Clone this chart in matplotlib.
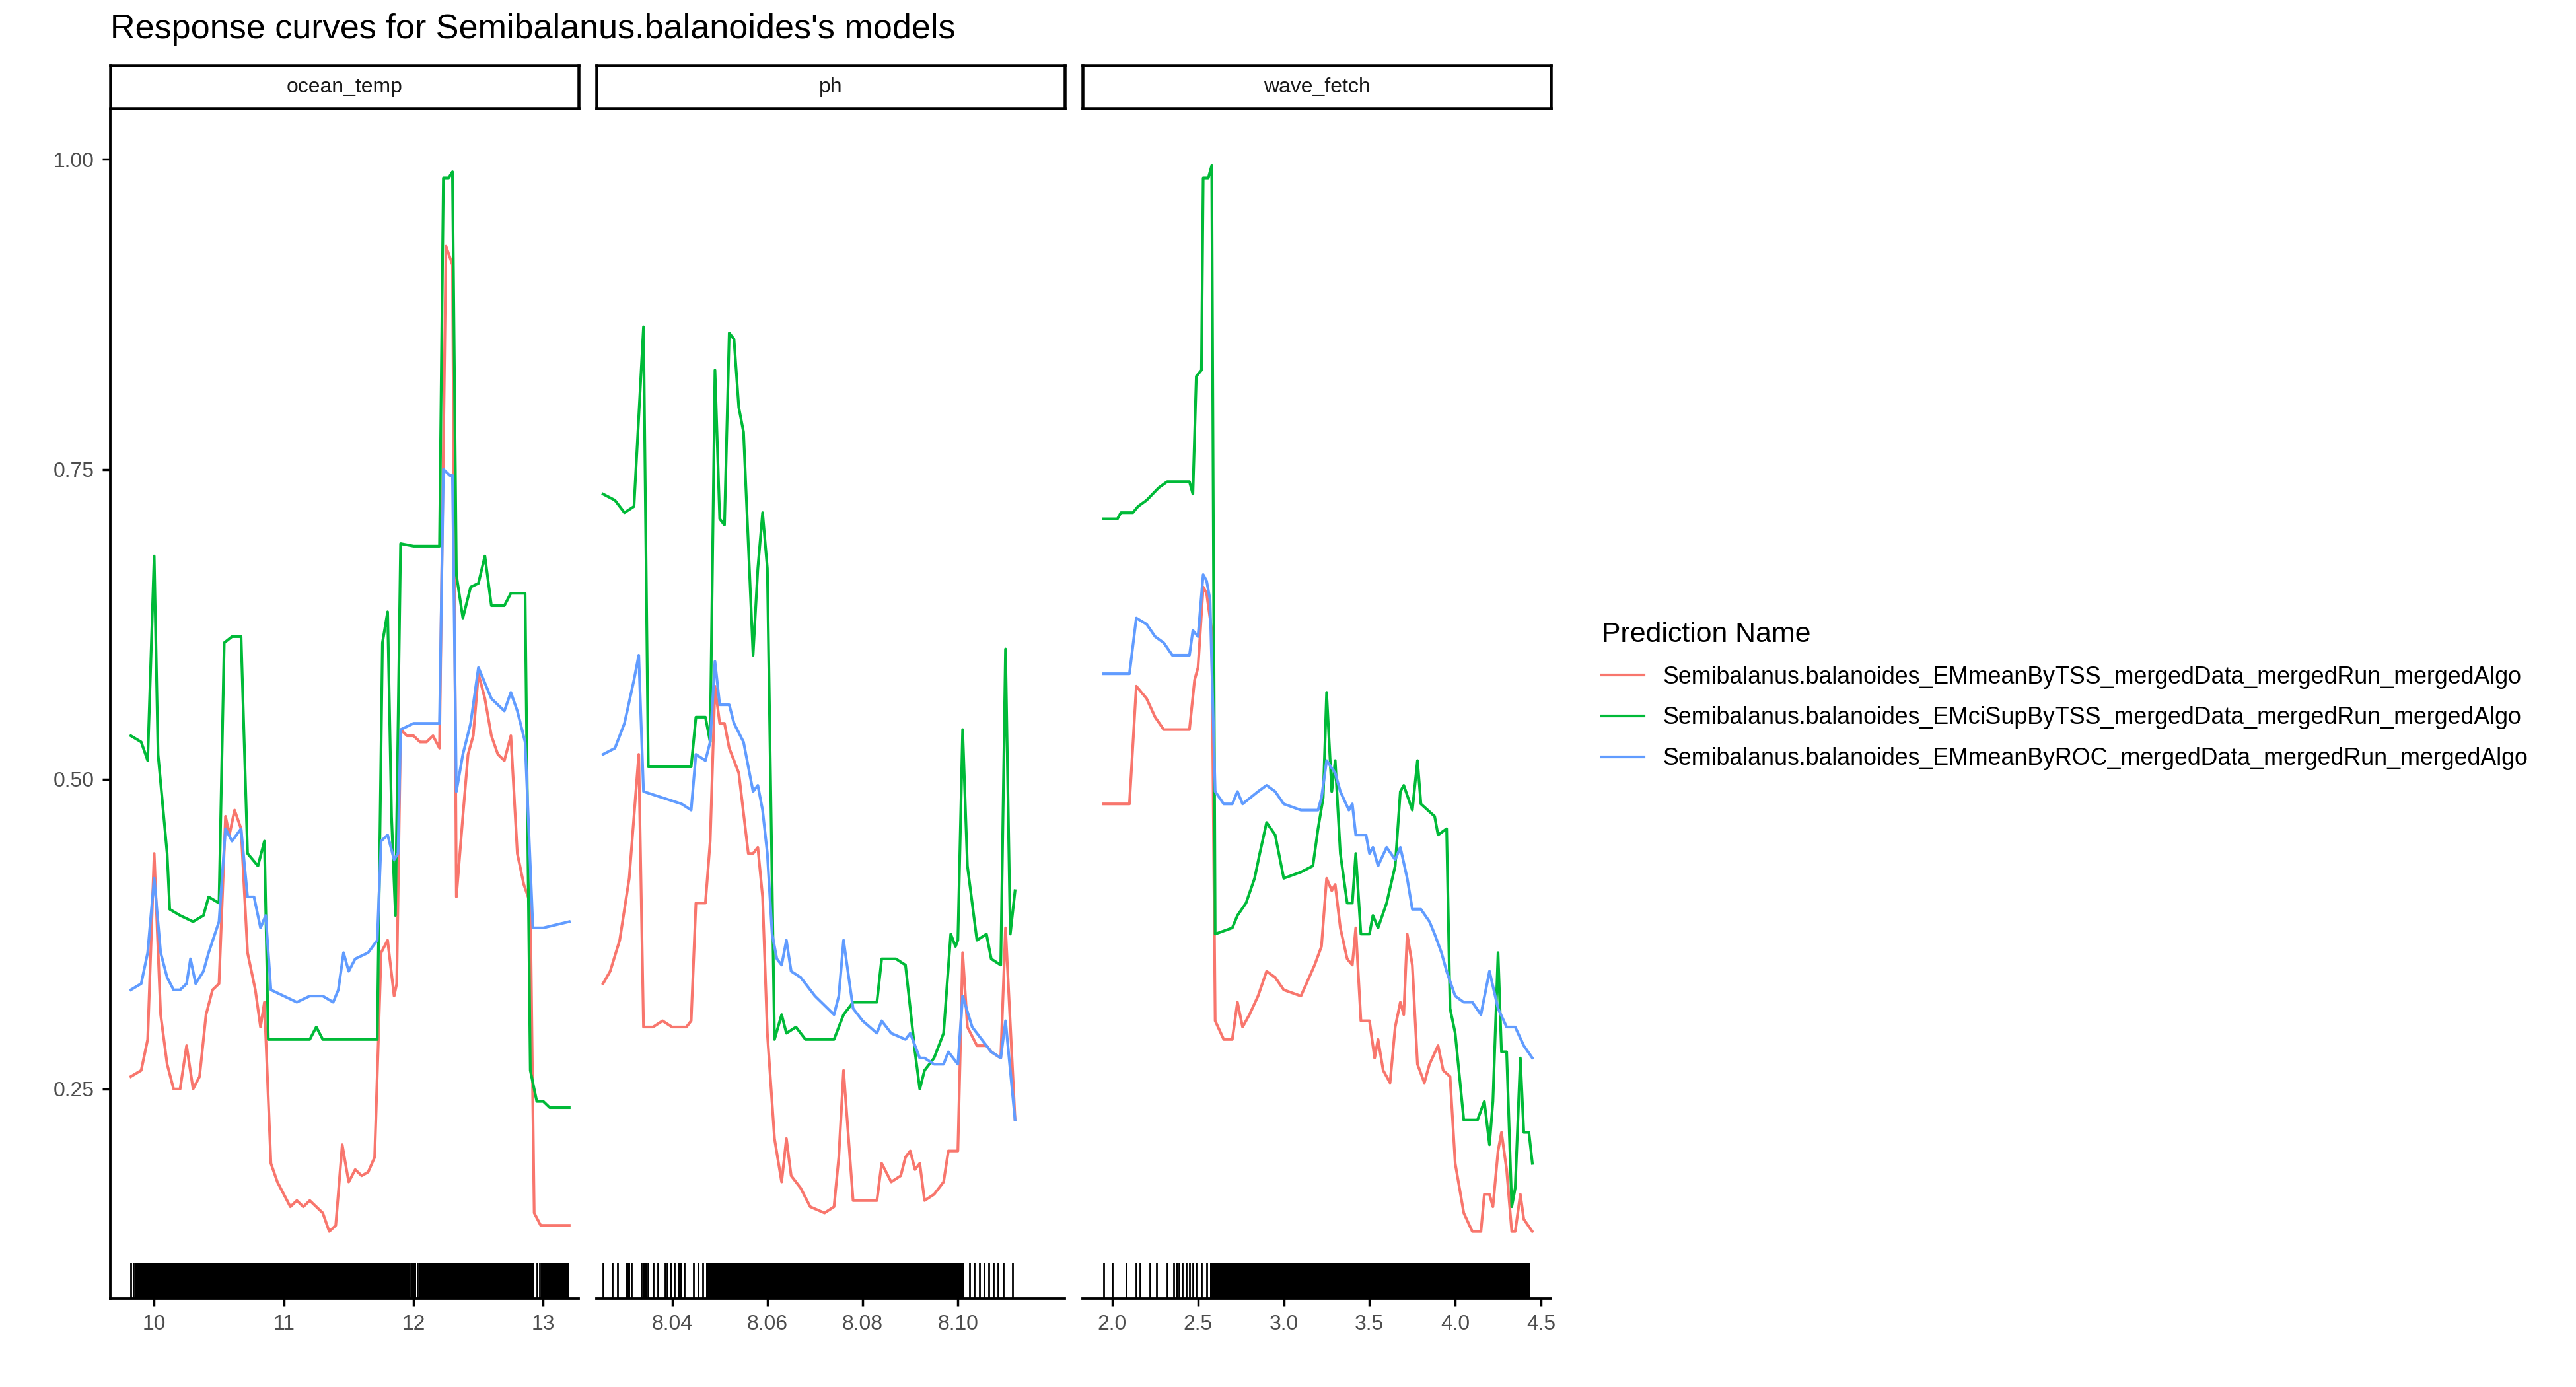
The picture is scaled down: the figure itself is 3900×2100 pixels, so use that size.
import matplotlib
matplotlib.use("Agg")
import matplotlib.pyplot as plt
import matplotlib.transforms as mtransforms

plt.rcParams['font.family'] = ['Liberation Sans', 'DejaVu Sans']

panels = ["ocean_temp", "ph", "wave_fetch"]
series_names = ["Semibalanus.balanoides_EMmeanByTSS_mergedData_mergedRun_mergedAlgo",
                "Semibalanus.balanoides_EMciSupByTSS_mergedData_mergedRun_mergedAlgo",
                "Semibalanus.balanoides_EMmeanByROC_mergedData_mergedRun_mergedAlgo"]
colors = ["#F8766D", "#00BA38", "#619CFF"]

# ---- ocean_temp ----
ot_red_x = [9.82,9.9,9.95,10.0,10.05,10.1,10.15,10.2,10.25,10.3,10.35,10.4,10.45,10.5,10.55,10.58,10.62,10.67,10.72,10.78,10.82,10.85,10.9,10.95,11.0,11.05,11.1,11.15,11.2,11.25,11.3,11.35,11.4,11.45,11.5,11.55,11.6,11.65,11.7,11.75,11.8,11.85,11.87,11.9,11.95,12.0,12.05,12.1,12.15,12.2,12.25,12.3,12.33,12.38,12.42,12.46,12.5,12.55,12.6,12.65,12.7,12.75,12.8,12.85,12.9,12.93,12.98,13.05,13.2]
ot_red_y = [0.26,0.265,0.29,0.44,0.31,0.27,0.25,0.25,0.285,0.25,0.26,0.31,0.33,0.335,0.47,0.455,0.475,0.46,0.36,0.33,0.30,0.32,0.19,0.175,0.165,0.155,0.16,0.155,0.16,0.155,0.15,0.135,0.14,0.205,0.175,0.185,0.18,0.183,0.195,0.36,0.37,0.325,0.335,0.54,0.535,0.535,0.53,0.53,0.535,0.525,0.93,0.915,0.405,0.47,0.52,0.535,0.585,0.565,0.535,0.52,0.515,0.535,0.44,0.415,0.40,0.15,0.14,0.14,0.14]
ot_green_x = [9.82,9.9,9.95,10.0,10.03,10.1,10.12,10.2,10.3,10.38,10.42,10.5,10.54,10.6,10.67,10.72,10.8,10.85,10.88,11.0,11.2,11.25,11.3,11.6,11.72,11.76,11.8,11.83,11.86,11.9,12.0,12.2,12.23,12.27,12.3,12.33,12.38,12.44,12.5,12.55,12.6,12.7,12.75,12.86,12.9,12.95,13.0,13.05,13.2]
ot_green_y = [0.535,0.53,0.515,0.68,0.52,0.44,0.395,0.39,0.385,0.39,0.405,0.40,0.61,0.615,0.615,0.44,0.43,0.45,0.29,0.29,0.29,0.30,0.29,0.29,0.29,0.61,0.635,0.47,0.39,0.69,0.688,0.688,0.985,0.985,0.99,0.665,0.63,0.655,0.658,0.68,0.64,0.64,0.65,0.65,0.265,0.24,0.24,0.235,0.235]
ot_blue_x = [9.82,9.9,9.95,10.0,10.05,10.1,10.15,10.2,10.25,10.28,10.32,10.38,10.42,10.5,10.55,10.6,10.67,10.72,10.77,10.82,10.86,10.9,11.0,11.1,11.2,11.3,11.38,11.42,11.46,11.5,11.55,11.65,11.72,11.75,11.8,11.85,11.88,11.9,12.0,12.2,12.23,12.28,12.3,12.33,12.38,12.44,12.5,12.6,12.7,12.75,12.8,12.86,12.92,13.0,13.2]
ot_blue_y = [0.33,0.335,0.36,0.42,0.36,0.34,0.33,0.33,0.335,0.355,0.335,0.345,0.36,0.385,0.46,0.45,0.46,0.405,0.405,0.38,0.39,0.33,0.325,0.32,0.325,0.325,0.32,0.33,0.36,0.345,0.355,0.36,0.37,0.45,0.455,0.435,0.44,0.54,0.545,0.545,0.75,0.745,0.745,0.49,0.52,0.545,0.59,0.565,0.555,0.57,0.555,0.53,0.38,0.38,0.385]

# ---- ph ----
ph_green_x = [8.0255,8.028,8.030,8.032,8.034,8.035,8.038,8.044,8.045,8.047,8.048,8.049,8.050,8.051,8.052,8.053,8.054,8.055,8.057,8.058,8.059,8.060,8.0615,8.063,8.064,8.066,8.068,8.074,8.076,8.078,8.083,8.084,8.087,8.089,8.091,8.092,8.093,8.095,8.097,8.0985,8.0995,8.100,8.101,8.102,8.104,8.106,8.107,8.109,8.110,8.111,8.112]
ph_green_y = [0.73,0.725,0.715,0.72,0.865,0.51,0.51,0.51,0.55,0.55,0.53,0.83,0.71,0.705,0.86,0.855,0.80,0.78,0.60,0.67,0.715,0.67,0.29,0.31,0.295,0.30,0.29,0.29,0.31,0.32,0.32,0.355,0.355,0.35,0.28,0.25,0.265,0.275,0.295,0.375,0.365,0.37,0.54,0.43,0.37,0.375,0.355,0.35,0.605,0.375,0.41]
ph_blue_x = [8.0255,8.028,8.030,8.032,8.033,8.034,8.038,8.042,8.044,8.045,8.047,8.048,8.049,8.050,8.052,8.053,8.055,8.057,8.058,8.059,8.060,8.061,8.062,8.063,8.064,8.065,8.067,8.070,8.074,8.075,8.076,8.078,8.080,8.083,8.084,8.086,8.089,8.090,8.092,8.093,8.095,8.097,8.098,8.100,8.101,8.103,8.105,8.107,8.109,8.110,8.112]
ph_blue_y = [0.52,0.525,0.545,0.58,0.60,0.49,0.485,0.48,0.475,0.52,0.515,0.53,0.595,0.56,0.56,0.545,0.53,0.49,0.495,0.475,0.44,0.375,0.355,0.35,0.37,0.345,0.34,0.325,0.31,0.325,0.37,0.315,0.305,0.295,0.305,0.295,0.29,0.295,0.275,0.275,0.27,0.27,0.28,0.27,0.325,0.30,0.29,0.28,0.275,0.305,0.225]
ph_red_x = [8.0255,8.027,8.029,8.031,8.033,8.034,8.036,8.038,8.040,8.043,8.044,8.045,8.047,8.048,8.049,8.050,8.051,8.052,8.054,8.056,8.057,8.058,8.059,8.060,8.0615,8.063,8.064,8.065,8.067,8.069,8.072,8.074,8.075,8.076,8.078,8.080,8.083,8.084,8.086,8.088,8.089,8.090,8.091,8.092,8.093,8.095,8.097,8.098,8.100,8.101,8.102,8.104,8.106,8.107,8.109,8.110,8.112]
ph_red_y = [0.335,0.345,0.37,0.42,0.52,0.30,0.30,0.305,0.30,0.30,0.305,0.40,0.40,0.45,0.575,0.545,0.545,0.525,0.505,0.44,0.44,0.445,0.405,0.295,0.21,0.175,0.21,0.18,0.17,0.155,0.15,0.155,0.195,0.265,0.16,0.16,0.16,0.19,0.175,0.18,0.195,0.20,0.185,0.19,0.16,0.165,0.175,0.20,0.20,0.36,0.30,0.285,0.285,0.28,0.275,0.38,0.225]

# ---- wave_fetch ----
wf_green_x = [1.95,2.03,2.05,2.12,2.15,2.2,2.27,2.32,2.45,2.47,2.49,2.52,2.53,2.56,2.58,2.6,2.7,2.73,2.78,2.83,2.86,2.9,2.95,3.0,3.1,3.17,3.2,3.23,3.25,3.28,3.3,3.33,3.37,3.4,3.42,3.45,3.5,3.52,3.55,3.6,3.65,3.68,3.7,3.75,3.78,3.8,3.88,3.9,3.95,3.97,4.0,4.05,4.13,4.17,4.2,4.22,4.25,4.27,4.3,4.33,4.35,4.38,4.4,4.43,4.45]
wf_green_y = [0.71,0.71,0.715,0.715,0.72,0.725,0.735,0.74,0.74,0.73,0.825,0.83,0.985,0.985,0.995,0.375,0.38,0.39,0.40,0.42,0.44,0.465,0.455,0.42,0.425,0.43,0.46,0.485,0.57,0.49,0.515,0.44,0.40,0.40,0.44,0.375,0.375,0.39,0.38,0.40,0.43,0.49,0.495,0.475,0.515,0.48,0.47,0.455,0.46,0.315,0.295,0.225,0.225,0.24,0.205,0.24,0.36,0.28,0.28,0.155,0.17,0.275,0.215,0.215,0.19]
wf_blue_x = [1.95,2.1,2.14,2.2,2.25,2.3,2.35,2.45,2.47,2.5,2.53,2.55,2.57,2.6,2.65,2.7,2.73,2.76,2.85,2.9,2.95,3.0,3.1,3.2,3.22,3.25,3.3,3.33,3.38,3.4,3.42,3.48,3.5,3.52,3.55,3.6,3.65,3.68,3.72,3.75,3.8,3.85,3.88,3.92,3.95,4.0,4.05,4.1,4.15,4.2,4.25,4.3,4.35,4.4,4.45]
wf_blue_y = [0.585,0.585,0.63,0.625,0.615,0.61,0.60,0.60,0.62,0.615,0.665,0.66,0.645,0.49,0.48,0.48,0.49,0.48,0.49,0.495,0.49,0.48,0.475,0.475,0.485,0.515,0.505,0.49,0.475,0.48,0.455,0.455,0.44,0.445,0.43,0.445,0.435,0.445,0.42,0.395,0.395,0.385,0.375,0.36,0.345,0.325,0.32,0.32,0.31,0.345,0.315,0.30,0.30,0.285,0.275]
wf_red_x = [1.95,2.05,2.1,2.14,2.2,2.25,2.3,2.45,2.48,2.5,2.53,2.55,2.58,2.6,2.65,2.7,2.73,2.76,2.8,2.85,2.9,2.95,3.0,3.1,3.18,3.22,3.25,3.28,3.3,3.33,3.37,3.4,3.42,3.45,3.5,3.53,3.55,3.58,3.62,3.65,3.68,3.7,3.72,3.75,3.78,3.82,3.85,3.9,3.93,3.97,4.0,4.05,4.1,4.15,4.17,4.2,4.22,4.25,4.27,4.3,4.33,4.35,4.38,4.4,4.45]
wf_red_y = [0.48,0.48,0.48,0.575,0.565,0.55,0.54,0.54,0.58,0.59,0.655,0.65,0.62,0.305,0.29,0.29,0.32,0.30,0.31,0.325,0.345,0.34,0.33,0.325,0.35,0.365,0.42,0.41,0.415,0.38,0.355,0.35,0.38,0.305,0.305,0.275,0.29,0.265,0.255,0.30,0.32,0.31,0.375,0.35,0.27,0.255,0.27,0.285,0.265,0.26,0.19,0.15,0.135,0.135,0.165,0.165,0.155,0.20,0.215,0.185,0.135,0.135,0.165,0.145,0.135]

# rug: individual observation positions and densely covered spans
rug_single = {
    "ocean_temp": [9.82, 9.84, 11.98, 12.03, 12.95, 12.97],
    "ph": [8.0255, 8.0275, 8.0285, 8.0315, 8.0335, 8.035, 8.036, 8.037, 8.0385, 8.039, 8.0405, 8.0425,
           8.0445, 8.0455, 8.0465, 8.101, 8.1025, 8.1035, 8.1045, 8.1055, 8.1065, 8.1075, 8.1085, 8.1095, 8.1115],
    "wave_fetch": [1.95, 2.0, 2.08, 2.14, 2.16, 2.22, 2.26, 2.32, 2.36, 2.39, 2.41, 2.43, 2.45, 2.47, 2.49, 2.52, 2.55],
}
rug_spans = {
    "ocean_temp": [(9.85, 11.97), (11.985, 12.02), (12.04, 12.93), (12.98, 13.2)],
    "ph": [(8.0302, 8.0312), (8.0340, 8.0346), (8.0395, 8.0401), (8.0412, 8.0422), (8.0472, 8.1012)],
    "wave_fetch": [(2.37, 2.38), (2.57, 4.44)],
}

data = {
    "ocean_temp": [(ot_red_x, ot_red_y), (ot_green_x, ot_green_y), (ot_blue_x, ot_blue_y)],
    "ph": [(ph_red_x, ph_red_y), (ph_green_x, ph_green_y), (ph_blue_x, ph_blue_y)],
    "wave_fetch": [(wf_red_x, wf_red_y), (wf_green_x, wf_green_y), (wf_blue_x, wf_blue_y)],
}
xlims = {"ocean_temp": (9.66, 13.27), "ph": (8.0241, 8.1224), "wave_fetch": (1.827, 4.558)}
xticks = {"ocean_temp": ([10, 11, 12, 13], ["10", "11", "12", "13"]),
          "ph": ([8.04, 8.06, 8.08, 8.10], ["8.04", "8.06", "8.08", "8.10"]),
          "wave_fetch": ([2.0, 2.5, 3.0, 3.5, 4.0, 4.5], ["2.0", "2.5", "3.0", "3.5", "4.0", "4.5"])}
yticks = [0.25, 0.50, 0.75, 1.00]
ytick_labels = ["0.25", "0.50", "0.75", "1.00"]

W, H = 1568, 846
fig = plt.figure(figsize=(15.6, 8.4), dpi=250)
lefts = [67, 363, 659]
pw = 285
top, bottom = 67, 792
y0, y1 = 0.081, 1.04
gray = "#4D4D4D"
lines = []
for i, p in enumerate(panels):
    l = lefts[i]
    ax = fig.add_axes([l / W, 1 - bottom / H, pw / W, (bottom - top) / H])
    for k, (xs, ys) in enumerate(data[p]):
        ln, = ax.plot(xs, ys, color=colors[k], lw=1.2)
        if i == 0:
            lines.append(ln)
    trans = mtransforms.blended_transform_factory(ax.transData, ax.transAxes)
    ax.vlines(rug_single[p], 0, 0.03, color="black", lw=0.8, transform=trans)
    for a, b in rug_spans[p]:
        ax.axvspan(a, b, ymin=0, ymax=0.03, color="black", lw=0)
    ax.set_xlim(*xlims[p])
    ax.set_ylim(y0, y1)
    ax.set_xticks(xticks[p][0], xticks[p][1])
    ax.set_yticks(yticks, ytick_labels)
    for s in ["top", "right"]:
        ax.spines[s].set_visible(False)
    ax.spines["bottom"].set_linewidth(1.1)
    ax.spines["left"].set_linewidth(1.1)
    ax.tick_params(colors="black", labelcolor=gray, labelsize=9.2, length=3.5, width=1.0)
    if i > 0:
        ax.spines["left"].set_visible(False)
        ax.tick_params(axis="y", left=False, labelleft=False)
    # strip
    sax = fig.add_axes([l / W, 1 - 66 / H, pw / W, 26 / H])
    sax.set_xticks([]); sax.set_yticks([])
    for s in sax.spines.values():
        s.set_linewidth(1.3)
    sax.text(0.5, 0.5, p, ha="center", va="center", fontsize=9.2, color="#1A1A1A", transform=sax.transAxes)

fig.text(67 / W, 1 - 18 / H, "Response curves for Semibalanus.balanoides's models", fontsize=15,
         ha="left", va="center")
fig.legend(lines, series_names, title="Prediction Name", loc="upper left",
           bbox_to_anchor=(962 / W, 1 - 366 / H), frameon=False, fontsize=10.3, title_fontsize=12.3,
           handlelength=1.8, labelspacing=0.75, alignment="left")
fig.savefig("out.png", dpi=250)
